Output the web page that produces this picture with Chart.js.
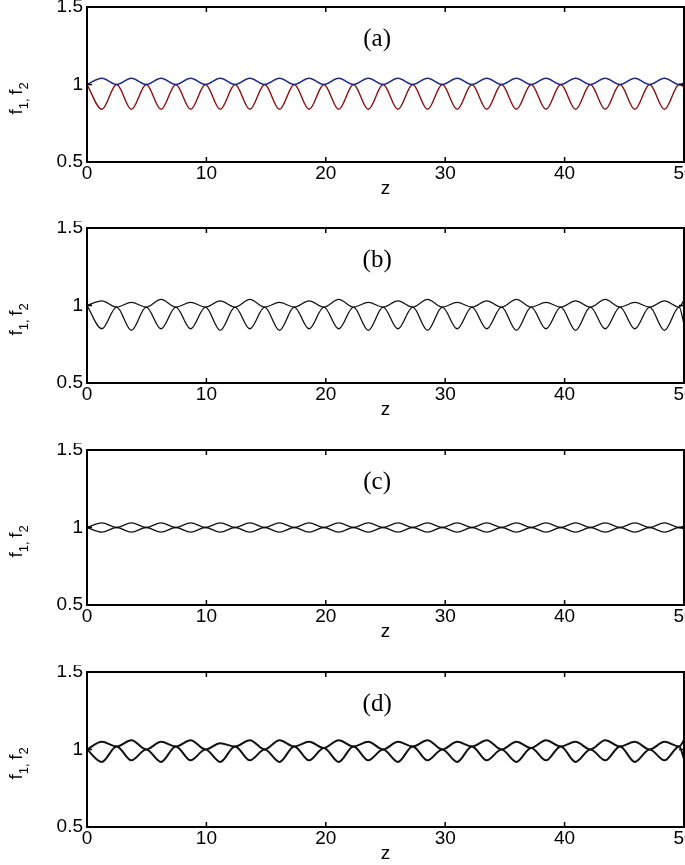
<html><head><title>f1, f2 vs z</title>
<style>
    body { margin: 0; background: #fff; }
    .panel { position: absolute; left: 0; width: 685px; height: 222px; }
</style>
<script src="https://cdn.jsdelivr.net/npm/chart.js"></script>
</head>
<body>
<div class="panel" style="top:0px"><canvas id="ca"></canvas></div>
<div class="panel" style="top:221px"><canvas id="cb"></canvas></div>
<div class="panel" style="top:443px"><canvas id="cc"></canvas></div>
<div class="panel" style="top:665px"><canvas id="cd"></canvas></div>
<script>
// z positions of nodes and extremes
const zGrid = [0, 1.24, 2.48, 3.72, 4.96, 6.2, 7.44, 8.68, 9.92, 11.16, 12.4, 13.64, 14.88, 16.12,
    17.36, 18.6, 19.84, 21.08, 22.32, 23.56, 24.8, 26.04, 27.28, 28.52, 29.76, 31.0, 32.24, 33.48,
    34.72, 35.96, 37.2, 38.44, 39.68, 40.92, 42.16, 43.4, 44.64, 45.88, 47.12, 48.36, 49.6, 50];
const xTicks = [0, 10, 20, 30, 40, 50];
const yTicks = [0.5, 1, 1.5];

const aF1 = [1,1.04,1,1.04,1,1.04,1,1.04,1,1.04,1,1.04,1,1.04,1,1.04,1,1.04,1,1.04,1,1.04,1,1.04,1,1.04,1,1.04,1,1.04,1,1.04,1,1.04,1,1.04,1,1.04,1,1.04,1,1.01];
const aF2 = [1,0.84,1,0.84,1,0.84,1,0.84,1,0.84,1,0.84,1,0.84,1,0.84,1,0.84,1,0.84,1,0.84,1,0.84,1,0.84,1,0.84,1,0.84,1,0.84,1,0.84,1,0.84,1,0.84,1,0.84,1,0.985];
const bF1 = [1,1.03,0.99,1.02,0.99,1.04,0.99,1.02,0.99,1.03,0.99,1.04,0.99,1.02,0.99,1.03,0.99,1.04,0.99,1.02,0.99,1.03,0.99,1.04,0.99,1.02,0.99,1.03,0.99,1.04,0.99,1.02,0.99,1.03,0.99,1.04,0.99,1.02,0.99,1.03,0.99,1.035];
const bF2 = [1,0.85,0.99,0.84,0.99,0.85,0.99,0.85,0.99,0.84,0.99,0.85,0.99,0.84,0.99,0.85,0.99,0.85,0.99,0.84,0.99,0.85,0.99,0.84,0.99,0.85,0.99,0.85,0.99,0.84,0.99,0.85,0.99,0.84,0.99,0.85,0.99,0.85,0.99,0.84,0.99,0.88];
const cF1 = [1,1.03,1,1.03,1,1.03,1,1.03,1,1.03,1,1.03,1,1.03,1,1.03,1,1.03,1,1.03,1,1.03,1,1.03,1,1.03,1,1.03,1,1.03,1,1.03,1,1.03,1,1.03,1,1.03,1,1.03,1,1.01];
const cF2 = [1,0.97,1,0.97,1,0.97,1,0.97,1,0.97,1,0.97,1,0.97,1,0.97,1,0.97,1,0.97,1,0.97,1,0.97,1,0.97,1,0.97,1,0.97,1,0.97,1,0.97,1,0.97,1,0.97,1,0.97,1,0.99];
const dF1 = [1,1.05,1.02,1.06,1.0,1.05,1.02,1.06,1.0,1.04,1.02,1.06,1.0,1.06,1.02,1.05,1.01,1.06,1.02,1.05,1.0,1.05,1.02,1.06,1.0,1.05,1.02,1.06,1.0,1.05,1.01,1.06,1.02,1.05,1.0,1.06,1.02,1.05,1.0,1.05,1.02,1.06];
const dF2 = [1,0.92,1.02,0.93,1.0,0.92,1.02,0.93,1.0,0.92,1.02,0.93,1.0,0.92,1.02,0.93,1.01,0.92,1.02,0.93,1.0,0.92,1.02,0.93,1.0,0.92,1.02,0.93,1.0,0.92,1.01,0.93,1.02,0.92,1.0,0.93,1.02,0.92,1.0,0.93,1.02,0.94];

// frame, inward ticks, tick labels and titles drawn MATLAB-style
const frame = {
    id: 'frame',
    afterDraw(chart, args, opts) {
        const { ctx, chartArea: a, scales: { x, y } } = chart;
        ctx.save();
        ctx.strokeStyle = '#000';
        ctx.fillStyle = '#000';
        ctx.lineWidth = 2;
        ctx.strokeRect(a.left, a.top, a.right - a.left, a.bottom - a.top);
        ctx.lineWidth = 1.5;
        ctx.beginPath();
        xTicks.forEach(t => {
            const px = x.getPixelForValue(t);
            ctx.moveTo(px, a.bottom); ctx.lineTo(px, a.bottom - 5);
            ctx.moveTo(px, a.top); ctx.lineTo(px, a.top + 5);
        });
        yTicks.forEach(t => {
            const py = y.getPixelForValue(t);
            ctx.moveTo(a.left, py); ctx.lineTo(a.left + 5, py);
            ctx.moveTo(a.right, py); ctx.lineTo(a.right - 5, py);
        });
        ctx.stroke();

        ctx.font = '19px "Liberation Sans"';
        ctx.textAlign = 'center';
        ctx.textBaseline = 'top';
        xTicks.forEach(t => ctx.fillText(String(t), x.getPixelForValue(t), a.bottom + 2));
        ctx.fillText('z', (a.left + a.right) / 2, a.bottom + 17);
        ctx.textAlign = 'right';
        ctx.textBaseline = 'middle';
        yTicks.forEach(t => ctx.fillText(String(t), a.left - 4, y.getPixelForValue(t)));

        ctx.font = '25px "Liberation Serif"';
        ctx.textAlign = 'center';
        ctx.fillText(opts.label, x.getPixelForValue(24.3), y.getPixelForValue(1.29));

        // y label f1, f2 with subscripts
        ctx.translate(22, y.getPixelForValue(1));
        ctx.rotate(-Math.PI / 2);
        ctx.font = '19px "Liberation Sans"';
        ctx.textAlign = 'left';
        ctx.textBaseline = 'alphabetic';
        let cx = -30;
        ctx.fillText('f', cx, 0); cx += ctx.measureText('f').width;
        ctx.font = '13px "Liberation Sans"';
        ctx.fillText('1', cx, 6); cx += ctx.measureText('1').width;
        ctx.fillText(',', cx, 6); cx += ctx.measureText(', ').width;
        ctx.font = '19px "Liberation Sans"';
        ctx.fillText('f', cx, 0); cx += ctx.measureText('f').width;
        ctx.font = '13px "Liberation Sans"';
        ctx.fillText('2', cx, 6);
        ctx.restore();
    }
};

function makeChart(id, label, s1, s2, c1, c2, width) {
    const pts = s => zGrid.map((z, i) => ({ x: z, y: s[i] }));
    const ds = (s, c) => ({
        data: pts(s), borderColor: c, borderWidth: width, pointRadius: 0,
        cubicInterpolationMode: 'monotone', fill: false
    });
    new Chart(document.getElementById(id), {
        type: 'line',
        data: { datasets: [ds(s1, c1), ds(s2, c2)] },
        plugins: [frame],
        options: {
            responsive: true, maintainAspectRatio: false, animation: false,
            layout: { padding: { top: 7, right: 1, left: 0, bottom: 0 } },
            plugins: { legend: { display: false }, tooltip: { enabled: false }, frame: { label } },
            scales: {
                x: {
                    type: 'linear', min: 0, max: 50,
                    afterFit: s => { s.height = 60; },
                    grid: { display: false }, border: { display: false },
                    ticks: { display: false }
                },
                y: {
                    min: 0.5, max: 1.5,
                    afterFit: s => { s.width = 87; },
                    grid: { display: false }, border: { display: false },
                    ticks: { display: false }
                }
            }
        }
    });
}

makeChart('ca', '(a)', aF1, aF2, '#1c2a8a', '#8b1010', 1.4);
makeChart('cb', '(b)', bF1, bF2, '#111', '#111', 1.3);
makeChart('cc', '(c)', cF1, cF2, '#111', '#111', 1.3);
makeChart('cd', '(d)', dF1, dF2, '#111', '#111', 2);
</script>
</body></html>
